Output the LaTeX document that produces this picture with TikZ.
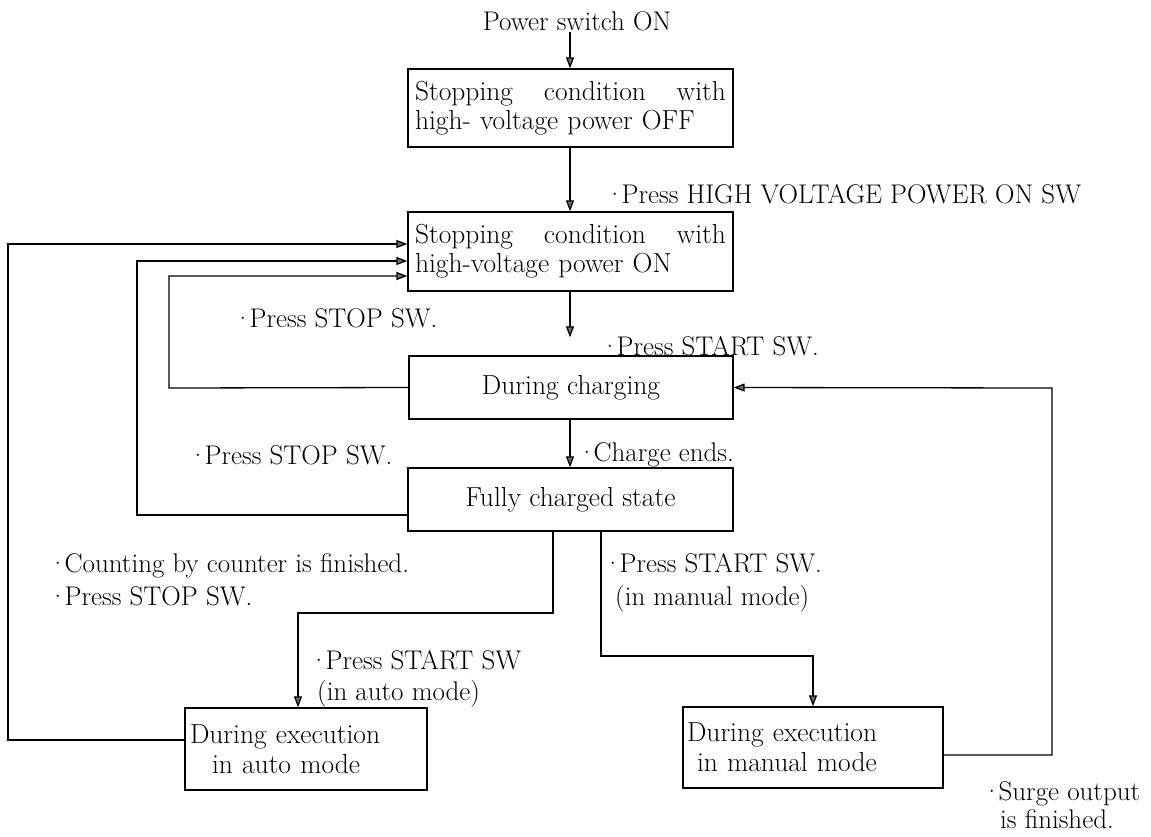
\documentclass[tikz,border=0pt]{standalone}
\usetikzlibrary{arrows.meta,calc}
\newcommand\dfont{\fontsize{27}{33}\selectfont}
\newcommand\bfontx{\fontsize{27.5}{32}\selectfont}
\newcommand\dd{\textperiodcentered\kern-3pt}
\tikzset{
  statebox/.style={draw, line width=1.4pt, inner xsep=6pt, inner ysep=2pt, font=\bfontx, anchor=center},
  lbl/.style={font=\dfont, inner sep=0pt, anchor=west, align=left},
  arr/.style={line width=1.3pt, -{Triangle[length=11pt,width=8pt,fill=black!55]}},
}
\begin{document}
\begin{tikzpicture}[x=1pt,y=-1pt]
\useasboundingbox (0,0) rectangle (1151,836);
\coordinate (c570) at (570,0);
% nodes
\node[font=\dfont, inner sep=1pt] (ps) at (577,21) {Power switch ON};
\node[statebox, minimum width=325pt, minimum height=78pt, text width=311pt, align=left] (b1) at (570.5,108)
  {\hbox to 311pt{Stopping\hfill condition\hfill with}\\[-3pt]high- voltage power OFF};
\node[statebox, minimum width=325pt, minimum height=79pt, text width=311pt, align=left] (b2) at (570.5,251.5)
  {\hbox to 311pt{Stopping\hfill condition\hfill with}\\[-3pt]high-voltage power ON};
\node[statebox, minimum width=324pt, minimum height=63pt] (charge) at (571,387.5) {During charging};
\node[statebox, minimum width=325pt, minimum height=63pt] (full) at (570.5,499.5) {Fully charged state};
\node[statebox, minimum width=242pt, minimum height=82pt, text width=232pt, align=left, inner xsep=4pt] (auto) at (306,749)
  {During execution\\[-2pt]\hspace*{22pt}in auto mode};
\node[statebox, minimum width=260pt, minimum height=81pt, text width=252pt, align=left, inner xsep=4pt] (manual) at (813,747.5)
  {During execution\\[-2pt]\hspace*{10pt}in manual mode};
% labels
\node[lbl] (l1) at (605,194) {\dd Press HIGH VOLTAGE POWER ON SW};
\node[lbl] (l2) at (233,318) {\dd Press STOP SW.};
\node[lbl] (l3) at (600,346) {\dd Press START SW.};
\node[lbl] (l4) at (188,455) {\dd Press STOP SW.};
\node[lbl] (l5) at (577,455) {\dd Charge ends.};
\node[lbl, anchor=north west] (l6) at (48,553) {\dd Counting by counter is finished.\\[0pt]\dd Press STOP SW.};
\node[lbl, anchor=north west] (l7) at (603,553) {\dd Press START SW.\\[0pt]\hspace*{12pt}(in manual mode)};
\node[lbl, anchor=north west] (l8) at (309,650) {\dd Press START SW\\[-2pt]\hspace*{8pt}(in auto mode)};
\node[lbl, anchor=north west] (l9) at (982,781) {\dd Surge output\\[-5pt]\hspace*{18pt}is finished.};
% coordinates
\coordinate (o1) at (8,244); \coordinate (o2) at (8,740);
\coordinate (m1) at (137,261); \coordinate (m2) at (137,515);
\coordinate (i1) at (169,276); \coordinate (i2) at (169,388);
\coordinate (a1) at (553,613); \coordinate (a2) at (298,613);
\coordinate (q1) at (601,656); \coordinate (q2) at (813,656);
\coordinate (r1) at (1052,755); \coordinate (r2) at (1052,388);
% connectors
\draw[arr] (ps.south -| c570) -- (b1.north -| c570);
\draw[arr] (b1.south -| c570) -- (b2.north -| c570);
\draw[arr, shorten >=18pt] (b2.south -| c570) -- (charge.north -| c570);
\draw[arr] (charge.south -| c570) -- (full.north -| c570);
\draw[arr] (auto.west |- o2) -- (o2) -- (o1) -- (b2.west |- o1);
\draw[arr] (full.west |- m2) -- (m2) -- (m1) -- (b2.west |- m1);
\draw[arr] (charge.west) -- (i2) -- (i1) -- (b2.west |- i1);
\draw[arr] (full.south -| a1) -- (a1) -- (a2) -- (auto.north -| a2);
\draw[arr] (full.south -| q1) -- (q1) -- (q2) -- (manual.north -| q2);
\draw[arr] (manual.east |- r1) -- (r1) -- (r2) -- (charge.east);
\end{tikzpicture}
\end{document}
